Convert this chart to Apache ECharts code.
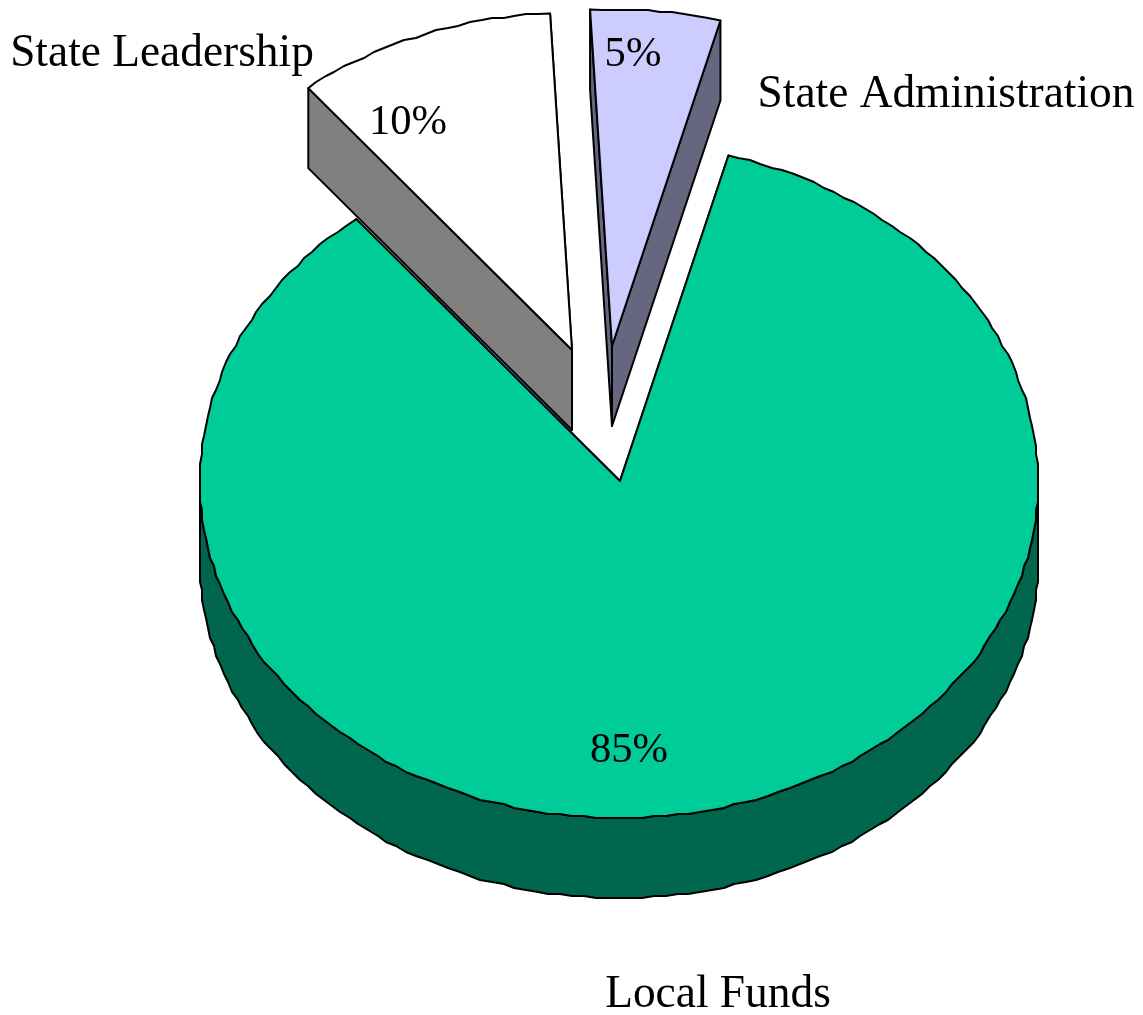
<!DOCTYPE html>
<html>
<head>
<meta charset="utf-8">
<title>Funding shares</title>
<script src="https://cdn.jsdelivr.net/npm/echarts@6/dist/echarts.min.js"></script>
<style>
  html, body { margin: 0; padding: 0; background: #ffffff; }
  #chart { width: 1143px; height: 1015px; }
</style>
</head>
<body>
<div id="chart"></div>
<script>
// Slices in clockwise order, beginning at the right edge of the large slice.
const categories = ['Local Funds', 'State Leadership', 'State Administration'];
const shares = [85, 10, 5];

// Tilted-pie geometry, in pixels and degrees clockwise from twelve o'clock.
const centre = { x: 620, y: 481 };
const radius = { x: 419, y: 337 };
const depth = 80;
const firstAngle = 15;
const total = shares.reduce((a, b) => a + b, 0);

// Per-slice presentation, in the same order as the categories.
const looks = [
  { top: '#00CC99', side: '#00664D', dx: 0, dy: 0,
    pct: [629, 751], name: [718, 995] },
  { top: '#FFFFFF', side: '#808080', dx: -48, dy: -131,
    pct: [408, 123], name: [162, 54] },
  { top: '#CCCCFF', side: '#666680', dx: -8, dy: -135,
    pct: [633, 55], name: [946, 95] }
];

// The outline is plotted on a coarse grid, which gives the rim its faceted edge.
const GRID = 2;
const snapX = v => Math.floor(v / GRID) * GRID;
const snapY = v => Math.round(v / GRID) * GRID;

function rimPoint(deg, look) {
  const r = deg * Math.PI / 180;
  return [
    centre.x + look.dx + radius.x * Math.sin(r),
    centre.y + look.dy - radius.y * Math.cos(r)
  ];
}

// Samples the rim, keeping each point's angle so the wall can reuse them.
function arc(from, to, look) {
  const pts = [];
  const steps = Math.max(2, Math.round((to - from) / 1.6));
  for (let i = 0; i <= steps; i++) {
    const angle = from + (to - from) * i / steps;
    const p = rimPoint(angle, look);
    const atEnd = i === 0 || i === steps;
    pts.push({ angle: angle, xy: atEnd ? p : [snapX(p[0]), snapY(p[1])] });
  }
  return pts;
}

const lineStyle = { stroke: '#000000', lineWidth: 2, lineJoin: 'round' };
const nameFont = '45.4px "Liberation Serif", "Times New Roman", serif';
const pctFont = '42.6px "Liberation Serif", "Times New Roman", serif';

function poly(points, fill) {
  return {
    type: 'polygon',
    shape: { points: points },
    style: Object.assign({ fill: fill }, lineStyle)
  };
}

function label(text, at, font) {
  return {
    type: 'text',
    x: at[0],
    y: at[1],
    style: {
      text: text,
      font: font,
      fill: '#000000',
      align: 'center',
      verticalAlign: 'middle'
    },
    z2: 10
  };
}

function renderSlice(params, api) {
  const i = params.dataIndex;
  const value = api.value(0);
  const look = looks[i];
  let before = 0;
  for (let k = 0; k < i; k++) before += shares[k];
  const start = firstAngle + before / total * 360;
  const end = start + value / total * 360;
  const apex = [centre.x + look.dx, centre.y + look.dy];
  const down = p => [p[0], p[1] + depth];
  const rim = arc(start, end, look);
  const children = [];

  // Cut faces, drawn first so that the top face covers the hidden ones.
  [end, start].forEach(a => {
    const p = rimPoint(a, look);
    children.push(poly([p, apex, down(apex), down(p)], look.side));
  });

  // Outer wall, only along the front half of the ellipse.
  const wall = rim.filter(p => p.angle >= 90 && p.angle <= 270).map(p => p.xy);
  if (wall.length > 1) {
    children.push(poly(wall.concat(wall.map(down).reverse()), look.side));
  }

  // Top face.
  children.push(poly([apex].concat(rim.map(p => p.xy)), look.top));

  children.push(label(value + '%', look.pct, pctFont));
  children.push(label(categories[i], look.name, nameFont));
  return { type: 'group', children: children };
}

const chart = echarts.init(document.getElementById('chart'), null, { renderer: 'canvas' });
chart.setOption({
  backgroundColor: '#ffffff',
  animation: false,
  series: [{
    type: 'custom',
    coordinateSystem: 'none',
    silent: true,
    renderItem: renderSlice,
    data: shares.map((v, i) => ({ name: categories[i], value: [v] }))
  }]
});
</script>
</body>
</html>
